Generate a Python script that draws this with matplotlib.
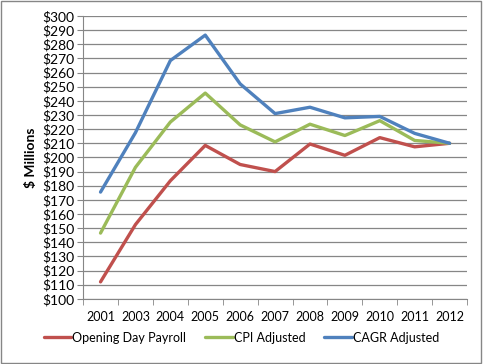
import numpy as np
import matplotlib.pyplot as plt
from matplotlib.patches import Rectangle

plt.rcParams['font.family'] = ['Lato', 'DejaVu Sans']

years = ['2001', '2003', '2004', '2005', '2006', '2007', '2008', '2009', '2010', '2011', '2012']
payroll = [112, 152.5, 183.5, 208.5, 195, 190, 209.5, 201.5, 214, 207.5, 210]
cpi = [146.5, 193, 225, 245.5, 223, 211, 223.5, 215.5, 226, 212, 210]
cagr = [175.5, 217.5, 268.5, 286.5, 252, 231, 235.5, 228, 229, 217, 210]

fig = plt.figure(figsize=(4.83, 3.64), dpi=100)
ax = fig.add_axes([0.172, 0.179, 0.795, 0.777])

x = np.arange(len(years))
ax.plot(x, payroll, color='#C0504D', lw=2.4, label='Opening Day Payroll', solid_capstyle='round')
ax.plot(x, cpi, color='#9BBB59', lw=2.4, label='CPI Adjusted', solid_capstyle='round')
ax.plot(x, cagr, color='#4F81BD', lw=2.4, label='CAGR Adjusted', solid_capstyle='round')

ax.set_xlim(-0.5, len(years) - 0.5)
ax.set_ylim(100, 300)
yt = np.arange(100, 301, 10)
ax.set_yticks(yt)
ax.set_yticklabels(['$%d' % v for v in yt], fontsize=10)
ax.set_xticks(x)
ax.set_xticklabels(years, fontsize=9)
ax.set_xticks(np.arange(-0.5, len(years), 1), minor=True)
ax.tick_params(axis='x', which='major', length=0, pad=9)
ax.tick_params(axis='x', which='minor', length=4, color='#868686', direction='out')
ax.tick_params(axis='y', length=4, color='#868686', pad=2)
ax.grid(axis='y', color='#868686', lw=0.9)
ax.set_axisbelow(True)
for s in ['top', 'right']:
    ax.spines[s].set_visible(False)
for s in ['left', 'bottom']:
    ax.spines[s].set_color('#868686')

ax.set_ylabel('$ Millions', fontsize=10, fontweight='bold', labelpad=4)

fig.legend(loc='lower center', bbox_to_anchor=(0.5, 0.025), ncol=3, frameon=False,
           fontsize=9, handlelength=2.2, handletextpad=0.1, columnspacing=1.5)

fig.patches.append(Rectangle((0.002, 0.003), 0.994, 0.994, transform=fig.transFigure,
                             fill=False, edgecolor='#868686', lw=1))

fig.savefig('out.png', dpi=100)
